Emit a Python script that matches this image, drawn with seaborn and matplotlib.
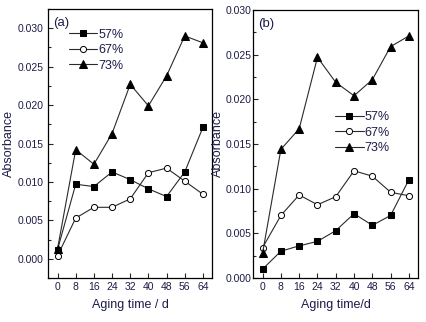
import matplotlib
matplotlib.use("Agg")
import matplotlib.pyplot as plt
from matplotlib.ticker import MultipleLocator, FormatStrFormatter
import seaborn as sns
import pandas as pd

days = [0, 8, 16, 24, 32, 40, 48, 56, 64]
series = ["57%", "67%", "73%"]

a_57 = [0.0012, 0.0097, 0.0094, 0.0113, 0.0103, 0.0091, 0.0081, 0.0113, 0.0171]
a_67 = [0.0004, 0.0053, 0.0067, 0.0067, 0.0078, 0.0112, 0.0118, 0.0101, 0.0084]
a_73 = [0.0013, 0.0142, 0.0123, 0.0163, 0.0227, 0.0199, 0.0238, 0.0290, 0.0281]

b_57 = [0.0010, 0.0030, 0.0036, 0.0041, 0.0053, 0.0072, 0.0059, 0.0070, 0.0110]
b_67 = [0.0034, 0.0070, 0.0093, 0.0082, 0.0091, 0.0120, 0.0114, 0.0096, 0.0092]
b_73 = [0.0028, 0.0144, 0.0167, 0.0247, 0.0219, 0.0204, 0.0222, 0.0259, 0.0271]

xticks = [0, 8, 16, 24, 32, 40, 48, 56, 64]

sns.set_theme(style="ticks")
plt.rcParams['font.family'] = ['Liberation Sans', 'DejaVu Sans']
TXT = '#1c1c48'

fig = plt.figure(figsize=(4.27, 3.22), dpi=100)
axA = fig.add_axes([0.1124, 0.1366, 0.3841, 0.8354])
axB = fig.add_axes([0.5925, 0.1366, 0.3865, 0.8324])

styles = {
    "57%": dict(marker='s', markerfacecolor='black', markeredgecolor='black', markersize=4.6),
    "67%": dict(marker='o', markerfacecolor='white', markeredgecolor='black', markersize=4.4,
                markeredgewidth=0.7),
    "73%": dict(marker='^', markerfacecolor='black', markeredgecolor='black', markersize=5.4),
}

def draw(ax, vals, xlabel, ylim, tag, legend_anchor, ypad, ylabpad):
    handles = []
    for name, v in zip(series, vals):
        df = pd.DataFrame({"day": days, "abs": v})
        sns.lineplot(data=df, x="day", y="abs", ax=ax, color='#2a2a2a', linewidth=0.8,
                     **styles[name])
        handles.append(ax.lines[-1])
    ax.set_xlim(-4.2, 68)
    ax.set_ylim(*ylim)
    ax.set_xticks(xticks)
    ax.yaxis.set_major_locator(MultipleLocator(0.005))
    ax.yaxis.set_minor_locator(MultipleLocator(0.0025))
    ax.yaxis.set_major_formatter(FormatStrFormatter('%.3f'))
    ax.tick_params(which='major', direction='in', length=3.5, width=0.8, labelsize=7.5,
                   labelcolor=TXT, pad=3)
    ax.tick_params(axis='y', which='major', pad=ypad)
    ax.tick_params(which='minor', direction='in', length=2.2, width=0.8)
    ax.tick_params(axis='x', which='minor', bottom=False)
    for s in ax.spines.values():
        s.set_linewidth(0.9)
        s.set_color('black')
    ax.set_xlabel(xlabel, fontsize=9, color=TXT, labelpad=5)
    ax.set_ylabel("Absorbance", fontsize=9, color=TXT, labelpad=ylabpad)
    ax.text(0.03, 0.97, tag, transform=ax.transAxes, fontsize=9.5, color=TXT,
            ha='left', va='top')
    leg = ax.legend(handles, series, loc='upper left', bbox_to_anchor=legend_anchor,
                    frameon=False, fontsize=9, handlelength=2.3, handletextpad=0.1,
                    labelspacing=0.28, borderaxespad=0.2)
    for t in leg.get_texts():
        t.set_color(TXT)

draw(axA, [a_57, a_67, a_73], "Aging time / d", (-0.0025, 0.0325), "(a)", (0.08, 0.955), 3, 2)
draw(axB, [b_57, b_67, b_73], "Aging time/d", (0.0, 0.030), "(b)", (0.45, 0.65), 1, 1)

fig.savefig("out.png", dpi=100)
